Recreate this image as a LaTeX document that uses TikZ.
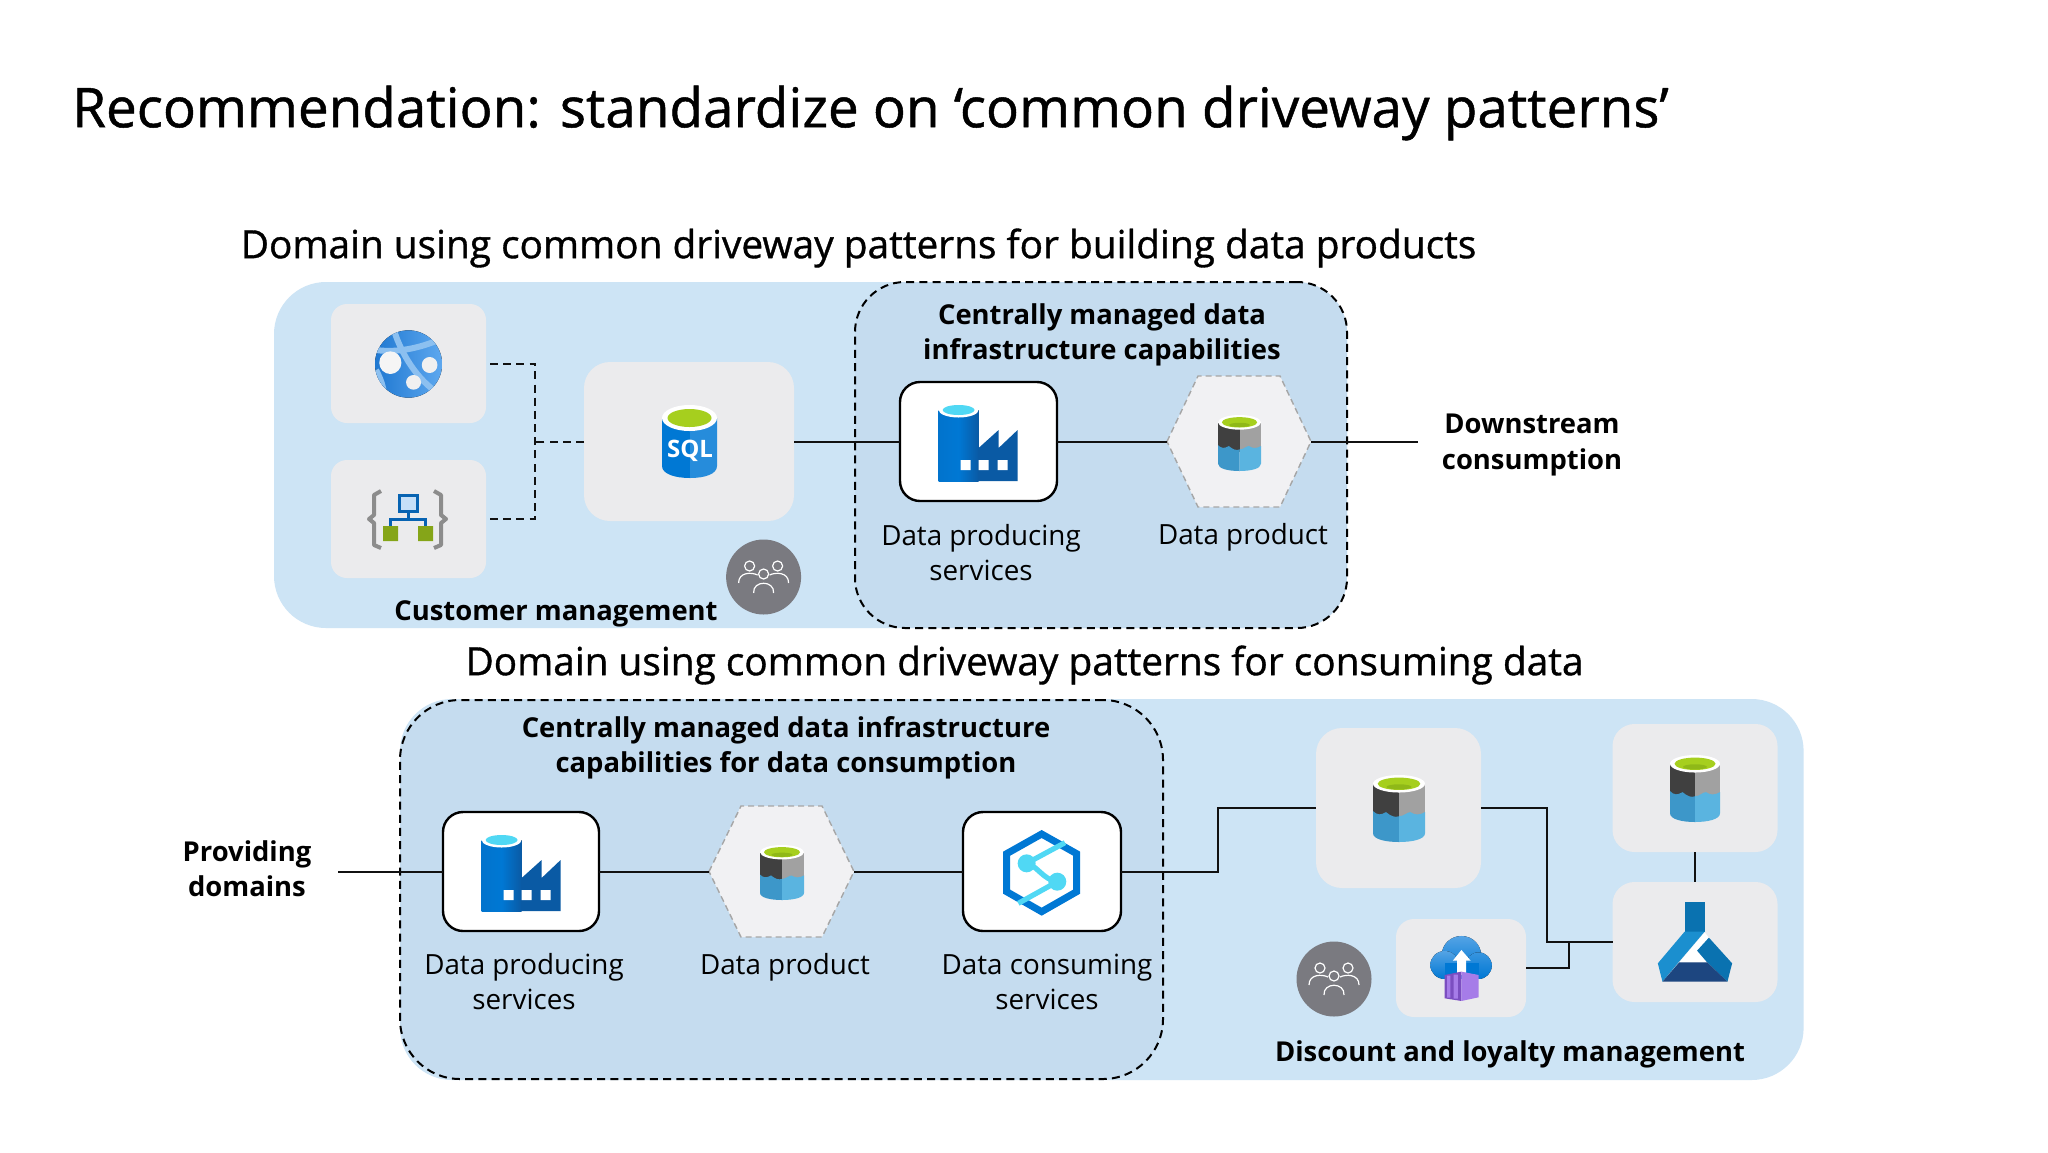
\documentclass[tikz,border=0pt]{standalone}
\usepackage{fontspec}
\setmainfont{Open Sans}
\newfontfamily\titlefont{Open Sans}[FakeBold=0.9]
\usetikzlibrary{fit,calc}
\definecolor{outerblue}{HTML}{CDE4F5}
\definecolor{innerblue}{HTML}{C5DCEF}
\definecolor{tilegrey}{HTML}{EBEBED}
\definecolor{hexfill}{HTML}{F1F1F3}
\definecolor{peoplegrey}{HTML}{7A7A80}
\definecolor{lineblack}{HTML}{111111}
\definecolor{HTMLa}{HTML}{3D97C9}
\definecolor{HTMLb}{HTML}{5AB4E0}
\definecolor{HTMLc}{HTML}{A6CF1E}
\definecolor{HTMLd}{HTML}{8FB818}
\definecolor{HTMLe}{HTML}{0078D4}
\definecolor{HTMLf}{HTML}{0A5AA4}
\definecolor{HTMLg}{HTML}{50D8F4}
\definecolor{HTMLh}{HTML}{8CC0F0}
\definecolor{HTMLj}{HTML}{0A72B0}
\definecolor{HTMLk}{HTML}{1B8FCF}
\definecolor{HTMLl}{HTML}{1D4680}
\definecolor{HTMLm}{HTML}{7B4EC0}
\definecolor{HTMLn}{HTML}{A67CE8}
\definecolor{globeL}{HTML}{1F78D1}
\definecolor{globeR}{HTML}{5EA8EF}
\tikzset{
  outerbox/.style={fill=outerblue,draw=none,rounded corners=26pt,inner sep=0pt,outer sep=0pt},
  dashbox/.style={fill=innerblue,draw=black,line width=1pt,dash pattern=on 4pt off 2.6pt,rounded corners=#1,inner sep=0pt,outer sep=0pt},
  tile/.style={fill=tilegrey,draw=none,rounded corners=#1,inner sep=0pt,outer sep=0pt},
  whitetile/.style={fill=white,draw=black,line width=1.2pt,rounded corners=10pt,inner sep=0pt,outer sep=0pt},
  hexframe/.style={inner sep=0pt,outer sep=0pt},
  hexline/.style={fill=hexfill,draw=black!35,line width=.7pt,dash pattern=on 3pt off 2pt},
  link/.style={draw=lineblack,line width=1pt},
  dashlink/.style={draw=lineblack,line width=1pt,dash pattern=on 4pt off 2.6pt},
  title/.style={font=\fontsize{27.4pt}{33pt}\titlefont,anchor=center,inner sep=0pt},
  subtitle/.style={font=\fontsize{19.4pt}{23pt}\titlefont,anchor=center,inner sep=0pt},
  boldlabel/.style={font=\fontsize{13.7pt}{17.5pt}\selectfont\bfseries,align=center,anchor=center,inner sep=0pt},
  label/.style={font=\fontsize{13.9pt}{17.5pt}\selectfont,align=center,anchor=center,inner sep=0pt},
}
% hexagon drawn round a named frame node
\newcommand{\hexnode}[6]{%
  \node[hexframe,fit={(#2,#3)(#4,#5)}] (#1) {};
  \draw[hexline] (#1.west) -- ($(#1.north west)+(#6,0)$) -- ($(#1.north east)+(-#6,0)$) -- (#1.east)
     -- ($(#1.south east)+(-#6,0)$) -- ($(#1.south west)+(#6,0)$) -- cycle;
}
% data lake cylinder
\newcommand{\lakeicon}[4]{%
  \begin{scope}[shift={(#1,#2)},xscale=#3/100,yscale=#4/130]
    \fill[black!75!white] (-50,-47) -- (0,-47) -- (0,20) -- (-50,20) -- cycle;
    \fill[black!37!white] (0,-47) -- (50,-47) -- (50,20) -- (0,20) -- cycle;
    \fill[HTMLa] (-50,5) .. controls (-42,13) and (-35,13) .. (-25,7) .. controls (-15,15) and (-8,18) .. (0,15) -- (0,65) .. controls (-25,65) and (-50,60) .. (-50,48) -- cycle;
    \fill[HTMLb] (0,15) .. controls (10,15) and (15,7) .. (22,7) .. controls (30,13) and (40,13) .. (50,7) -- (50,48) .. controls (50,60) and (25,65) .. (0,65) -- cycle;
    \fill[white] (0,-48) ellipse (50 and 17);
    \fill[HTMLc] (0,-48) ellipse (41 and 12);
    \fill[HTMLd] (0,-42) ellipse (24 and 5);
  \end{scope}
}
% factory icon, (#1,#2) is the top left corner
\newcommand{\factoryicon}[2]{%
  \begin{scope}[shift={(#1,#2)}]
    \fill[left color=HTMLe!85!HTMLf,right color=HTMLf,middle color=HTMLe] (0,7) -- (40,7) -- (40,78) -- (0,78) -- cycle;
    \fill[HTMLf] (40,45) -- (60,27) -- (60,45) -- (79,27) -- (79,78) -- (40,78) -- cycle;
    \fill[white] (20,7) ellipse (20 and 7.5);
    \fill[HTMLg] (20,7) ellipse (16 and 5);
    \fill[white] (22,57) rectangle (32,67) (40,57) rectangle (50,67) (59,57) rectangle (69,67);
  \end{scope}
}
% people badge
\newcommand{\peoplebadge}[3]{%
  \node[circle,fill=peoplegrey,draw=none,minimum size=37.5pt,inner sep=0pt] (#1) at (#2,#3) {};
  \begin{scope}[shift={(#2,#3)},draw=white,line width=.6pt]
    \draw (-14,-11) circle (5) (14,-11) circle (5) (0,-3) circle (5);
    \draw (-25,6) .. controls (-25,-5) and (-12,-5) .. (-6,-2);
    \draw (25,6) .. controls (25,-5) and (12,-5) .. (6,-2);
    \draw (-10,16) .. controls (-11,3) and (11,3) .. (10,16);
  \end{scope}
}
\begin{document}
\begin{tikzpicture}[x=.5pt,y=-.5pt]
\useasboundingbox (0,0) rectangle (2048,1152);
\fill[white] (0,0) rectangle (2048,1152);

% titles
\node[title] (maintitle) at (870.5,113) {Recommendation: standardize on ‘common driveway patterns’};
\node[subtitle] (subA) at (858.5,248) {Domain using common driveway patterns for building data products};
\node[subtitle] (subB) at (1024.5,665) {Domain using common driveway patterns for consuming data};

% containers
\node[outerbox,fit={(274,282)(1347,628)}] (domA) {};
\node[dashbox=25pt,fit={(855,282)(1347,628)}] (capA) {};
\node[outerbox,fit={(400,699)(1803.6,1080)}] (domB) {};
\node[dashbox=30pt,fit={(400,700)(1163,1079)}] (capB) {};

% tiles, top
\node[tile=8pt,fit={(331,304)(486,423)}] (web) {};
\node[tile=8pt,fit={(331,460)(486,578)}] (schema) {};
\node[tile=13pt,fit={(584,362)(794,521)}] (sql) {};
\node[whitetile,fit={(900,382)(1057,501)}] (factA) {};
\hexnode{hexA}{1167}{376}{1311}{507}{31}
% tiles, bottom
\node[whitetile,fit={(443,812)(599,931)}] (factB) {};
\hexnode{hexB}{709}{806}{854}{937}{32}
\node[whitetile,fit={(963,812)(1121,931)}] (syn) {};
\node[tile=13pt,fit={(1316,728)(1481,888)}] (lakeB) {};
\node[tile=11pt,fit={(1612.5,724)(1777.5,852)}] (lakeC) {};
\node[tile=11pt,fit={(1612.5,882)(1777.5,1002)}] (ml) {};
\node[tile=9pt,fit={(1396,919)(1526,1017)}] (cont) {};

% connectors, top
\coordinate (jA) at ($(sql.west)+(-49,0)$);
\coordinate (dsEnd) at (1418,441.5);
\draw[dashlink,shorten <=2pt] (web.east) -| (jA);
\draw[dashlink,shorten <=2pt] (schema.east) -| (jA);
\draw[dashlink] (sql.west) -- (jA);
\draw[link] (sql.east) -- (factA.west);
\draw[link] (factA.east) -- (hexA.west);
\draw[link] (hexA.east) -- (dsEnd);
% connectors, bottom
\coordinate (provEnd) at (338,871.5);
\coordinate (e1) at (1218,0);
\coordinate (e2) at (1546.5,0);
\coordinate (e3) at ($(ml.west)+(-44,0)$);
\draw[link] (provEnd) -- (factB.west);
\draw[link] (factB.east) -- (hexB.west);
\draw[link] (hexB.east) -- (syn.west);
\draw[link] (syn.east) -- (syn.east -| e1) |- (lakeB.west);
\draw[link] (lakeB.east) -- (lakeB.east -| e2) |- (ml.west);
\draw[link] (cont.east) -| (e3);
\draw[link] (lakeC.south) -- (ml.north);

% icons
% globe
\begin{scope}[shift={(260,270)},xscale=.3571,yscale=.3333]
  \begin{scope}
    \clip (416,282) ellipse (94 and 101);
    \fill[left color=globeL,right color=globeR] (322,181) rectangle (510,383);
    \draw[HTMLh,line width=3pt] (375,180) .. controls (395,250) and (440,330) .. (500,370);
    \draw[HTMLh,line width=3pt] (325,240) .. controls (390,250) and (460,230) .. (510,205);
    \draw[HTMLh,line width=3pt] (325,300) .. controls (345,340) and (345,360) .. (350,380);
  \end{scope}
  \fill[black!4] (365,278) ellipse (31 and 34);
  \fill[black!6] (475,285) ellipse (22 and 24);
  \fill[black!6] (430,337) ellipse (21 and 22);
\end{scope}
% schema
\draw[black!45,line width=2pt,line join=round] (381,491) -- (374,495) -- (374,515) -- (369,519) -- (374,523) -- (374,545) -- (381,548);
\draw[black!45,line width=2pt,line join=round] (434,491) -- (441,495) -- (441,515) -- (446,519) -- (441,523) -- (441,545) -- (434,548);
\draw[HTMLf!70!HTMLe,line width=1.5pt,fill=HTMLh!50!white] (399,495) rectangle (417,511);
\draw[HTMLf!70!HTMLe,line width=1.5pt] (408,511) -- (408,519) (390,527) -- (390,519) -- (425,519) -- (425,527);
\fill[HTMLc!80!black] (383,526) rectangle (398,541) (418,526) rectangle (433,541);
% SQL
\fill[HTMLe] (662,418) -- (690,418) -- (690,478) .. controls (675,478) and (662,474) .. (662,466) -- cycle;
\fill[HTMLe!85!white] (690,418) -- (717,418) -- (717,466) .. controls (717,474) and (705,478) .. (690,478) -- cycle;
\fill[white] (689.5,418) ellipse (27.5 and 13);
\fill[HTMLc] (689.5,418) ellipse (22 and 9);
\node[font=\fontsize{12pt}{14pt}\selectfont\bfseries,text=white,inner sep=0pt] (sqltext) at (690,451) {SQL};
% factories and lakes
\factoryicon{938.6}{403}
\factoryicon{481.6}{833}
\lakeicon{1239.5}{443}{43}{56}
\lakeicon{782}{872.5}{44}{55}
\lakeicon{1399}{808.5}{52}{67}
\lakeicon{1695}{788.5}{50}{67}
% synapse
\begin{scope}[shift={(700,790)},scale=.3333]
  \draw[HTMLe,line width=3.5pt,line join=miter] (1025,132) -- (1130,191) -- (1130,305) -- (1025,365) -- (920,305) -- (920,191) -- cycle;
  \draw[HTMLg,line width=2.6pt] (1095,158) -- (980,220) .. controls (1010,225) and (1030,270) .. (1072,275) -- (955,340);
  \fill[HTMLg] (980,220) circle (27) (1072,275) circle (27);
\end{scope}
% machine learning flask
\begin{scope}[shift={(1300,700)},xscale=.3571,yscale=.3333]
  \fill[white] (1062,787) -- (1133,697) -- (1145,713) -- (1112,752) -- (1140,787) -- cycle;
  \fill[HTMLj] (1077,605) rectangle (1133,697);
  \fill[HTMLk] (1077,695) -- (1133,695) -- (1060,787) -- (1015,845) -- (1002,790) -- cycle;
  \fill[HTMLj] (1145,713) -- (1210,790) -- (1197,845) -- (1140,787) -- (1112,752) -- cycle;
  \fill[HTMLl] (1062,787) -- (1140,787) -- (1197,845) -- (1015,845) -- cycle;
\end{scope}
% cloud and container
\begin{scope}[shift={(1300,700)},xscale=.3571,yscale=.3333]
  \fill[top color=HTMLh!60!HTMLe,bottom color=HTMLe] (452,765) ellipse (55 and 57);
  \fill[top color=HTMLh!60!HTMLe,bottom color=HTMLe] (405,795) ellipse (40 and 42);
  \fill[top color=HTMLh!40!HTMLe,bottom color=HTMLe] (500,797) ellipse (37 and 40);
  \fill[HTMLe] (405,790) rectangle (500,837);
  \fill[white] (440,782) rectangle (465,825) (452,750) -- (478,782) -- (428,782) -- cycle;
  \fill[HTMLm] (405,825) -- (452,815) -- (452,903) -- (405,895) -- cycle;
  \fill[HTMLn] (452,815) -- (500,825) -- (500,892) -- (452,903) -- cycle;
  \fill[HTMLn] (412,827) rectangle (421,893) (430,824) rectangle (442,896);
\end{scope}
% people
\peoplebadge{peopleA}{763.6}{577}
\peoplebadge{peopleB}{1334}{979}

% labels
\node[boldlabel] (custlabel) at (556,614) {Customer management};
\node[boldlabel] (capAlabel) at (1102,335) {Centrally managed data\\infrastructure capabilities};
\node[label] (factAlabel) at (981,552.5) {Data producing\\services};
\node[label] (hexAlabel) at (1243,537) {Data product};
\node[boldlabel] (downlabel) at (1532,445) {Downstream\\consumption};
\node[boldlabel] (capBlabel) at (786,748) {Centrally managed data infrastructure\\capabilities for data consumption};
\node[label] (factBlabel) at (524,981.5) {Data producing\\services};
\node[label] (hexBlabel) at (785,967) {Data product};
\node[label] (synlabel) at (1047,981.5) {Data consuming\\services};
\node[boldlabel] (provlabel) at (247,868.5) {Providing\\domains};
\node[boldlabel] (disclabel) at (1510,1054) {Discount and loyalty management};
\end{tikzpicture}
\end{document}
